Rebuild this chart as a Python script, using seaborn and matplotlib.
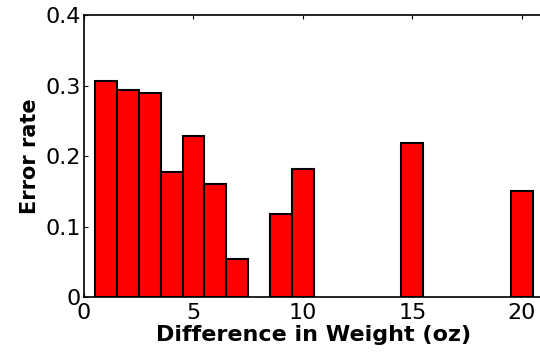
import pandas as pd
import seaborn as sns
import matplotlib.pyplot as plt

# diferenca de peso (oz) e taxa de erro
diferenca = [1, 2, 3, 4, 5, 6, 7, 9, 10, 15, 20]
taxa_erro = [0.307, 0.293, 0.290, 0.178, 0.229, 0.160, 0.054, 0.118, 0.182, 0.219, 0.150]
ticks_x = [0, 5, 10, 15, 20]
ticks_y = [0, 0.1, 0.2, 0.3, 0.4]
rotulos_y = ['0', '0.1', '0.2', '0.3', '0.4']

dados = pd.DataFrame({'diferenca': diferenca, 'taxa_erro': taxa_erro})

sns.set_style('ticks')
plt.rcParams['font.family'] = ['DejaVu Sans']
plt.rcParams['text.color'] = 'black'
plt.rcParams['axes.labelcolor'] = 'black'
plt.rcParams['xtick.color'] = 'black'
plt.rcParams['ytick.color'] = 'black'

fig = plt.figure(figsize=(5.4, 3.53), dpi=100)
ax = fig.add_axes([0.1556, 0.1586, 1.007 - 0.1556, 0.9575 - 0.1586])

sns.barplot(data=dados, x='diferenca', y='taxa_erro', native_scale=True, width=1,
            color='#FF0000', saturation=1, edgecolor='black', linewidth=1.5, ax=ax)

ax.set_xlim(0, 21)
ax.set_ylim(0, 0.4)
ax.set_xticks(ticks_x)
ax.set_xticklabels([str(t) for t in ticks_x])
ax.set_yticks(ticks_y)
ax.set_yticklabels(rotulos_y)
ax.tick_params(direction='in', top=True, right=True, length=3, width=0.8, labelsize=16)
ax.tick_params(axis='x', pad=4)
ax.tick_params(axis='y', pad=2)
for s in ax.spines.values():
    s.set_linewidth(1.2)
    s.set_color('black')
    s.set_visible(True)

ax.set_xlabel('Difference in Weight (oz)', fontsize=16, fontweight='bold', labelpad=2)
ax.set_ylabel('Error rate', fontsize=15, fontweight='bold', labelpad=4)

fig.savefig('out.png', dpi=100)
